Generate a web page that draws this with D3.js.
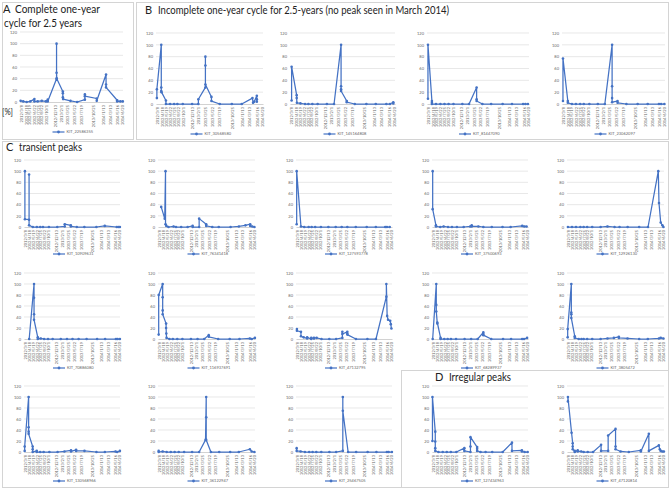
<!DOCTYPE html>
<html><head><meta charset="utf-8">
<script src="https://cdn.jsdelivr.net/npm/d3@7"></script>
<style>body{margin:0;background:#fff}svg{display:block}</style>
</head><body><svg id="c" width="670" height="489"></svg>
<script>
// ---------- DATA ----------
const yTicks = [0,20,40,60,80,100,120];
const tickDates = ["2012-03-08","2012-04-18","2012-05-19","2012-06-22","2012-07-25","2012-08-22","2012-10-01","2012-12-13","2013-02-01","2013-03-25","2013-05-22","2013-07-19","2013-10-25","2014-01-13","2014-03-13","2014-05-16","2014-06-20"];
const dateDomain = ["2012-03-01","2014-06-30"];

const kit_22586355 = [["2012-03-06",2],["2012-03-28",1],["2012-04-25",0],["2012-05-25",1],["2012-06-28",5],["2012-06-28",1],["2012-07-25",1],["2012-08-28",2],["2012-10-01",1],["2012-10-16",4],["2012-10-16",1],["2012-12-28",40],["2012-12-28",100],["2012-12-28",50],["2012-12-30",40],["2013-02-18",18],["2013-02-18",15],["2013-02-18",8],["2013-02-20",5],["2013-04-22",2],["2013-06-16",0],["2013-08-19",4],["2013-08-19",13],["2013-08-19",10],["2013-11-25",6],["2013-11-25",2],["2014-02-10",47],["2014-02-10",30],["2014-02-10",25],["2014-05-13",3],["2014-05-13",1],["2014-06-08",1],["2014-06-28",1]];
const kit_30568580 = [["2012-03-08",10],["2012-03-08",25],["2012-04-12",100],["2012-04-12",28],["2012-04-12",22],["2012-04-14",20],["2012-05-19",6],["2012-05-19",0],["2012-06-21",0],["2012-07-23",0],["2012-08-18",0],["2012-09-30",0],["2012-12-13",0],["2013-02-01",0],["2013-02-01",8],["2013-03-29",28],["2013-03-29",80],["2013-03-29",65],["2013-03-29",33],["2013-05-16",12],["2013-05-16",5],["2013-07-21",0],["2013-10-25",0],["2014-01-12",0],["2014-04-07",10],["2014-04-12",2],["2014-04-21",4],["2014-05-12",14],["2014-05-12",8],["2014-05-12",4]];
const kit_145164808 = [["2012-03-14",6],["2012-03-14",63],["2012-04-24",15],["2012-04-24",10],["2012-04-26",2],["2012-05-25",1],["2012-07-01",0],["2012-07-28",0],["2012-08-29",0],["2012-10-11",0],["2012-12-25",0],["2013-02-21",0],["2013-04-19",100],["2013-04-19",30],["2013-04-19",25],["2013-04-19",22],["2013-06-04",5],["2013-06-04",3],["2013-08-08",0],["2013-11-10",0],["2014-01-25",0],["2014-04-21",0],["2014-05-20",0],["2014-06-16",3],["2014-06-16",1]];
const kit_81447090 = [["2012-03-09",9],["2012-03-09",100],["2012-04-11",5],["2012-04-11",2],["2012-04-11",0],["2012-05-15",0],["2012-06-21",0],["2012-07-25",0],["2012-08-28",0],["2012-10-08",0],["2012-12-21",0],["2013-02-15",0],["2013-04-19",28],["2013-04-19",8],["2013-04-19",5],["2013-06-06",0],["2013-08-18",0],["2013-11-22",0],["2014-02-08",0],["2014-05-12",0],["2014-05-31",0],["2014-06-21",0]];
const kit_23062097 = [["2012-03-09",5],["2012-03-09",77],["2012-04-18",5],["2012-04-18",2],["2012-05-22",0],["2012-06-24",0],["2012-07-29",0],["2012-08-28",0],["2012-10-13",0],["2012-12-22",0],["2013-02-18",0],["2013-04-19",100],["2013-04-19",30],["2013-04-19",10],["2013-04-19",3],["2013-06-03",5],["2013-06-03",2],["2013-08-15",0],["2013-11-16",0],["2014-02-07",0],["2014-05-11",0],["2014-05-29",0],["2014-06-25",0]];
const kit_10909631 = [["2012-03-09",100],["2012-03-09",14],["2012-04-15",13],["2012-04-15",94],["2012-04-15",3],["2012-05-18",0],["2012-06-23",0],["2012-07-23",0],["2012-08-16",0],["2012-10-08",0],["2012-12-21",0],["2013-02-25",1],["2013-02-25",5],["2013-04-20",3],["2013-04-20",1],["2013-06-12",0],["2013-08-18",0],["2013-12-03",0],["2014-02-15",2],["2014-06-01",0],["2014-06-16",0],["2014-06-29",0]];
const kit_76341418 = [["2012-03-29",36],["2012-04-29",15],["2012-05-06",100],["2012-05-06",5],["2012-05-13",2],["2012-06-01",0],["2012-07-16",1],["2012-08-06",0],["2012-09-20",0],["2012-11-16",0],["2012-12-30",2],["2012-12-30",0],["2013-02-25",0],["2013-02-25",15],["2013-04-28",5],["2013-04-28",2],["2013-06-20",0],["2013-08-16",0],["2013-11-28",0],["2014-02-08",1],["2014-04-07",3],["2014-05-19",5],["2014-05-19",2],["2014-06-06",1],["2014-06-25",0]];
const kit_127593778 = [["2012-03-07",5],["2012-03-07",100],["2012-04-14",1],["2012-05-13",0],["2012-06-21",0],["2012-07-18",0],["2012-08-18",0],["2012-10-08",0],["2012-12-13",0],["2013-02-16",0],["2013-04-10",0],["2013-05-30",0],["2013-08-13",0],["2013-11-18",0],["2014-02-07",0],["2014-05-01",0],["2014-05-16",0],["2014-06-10",0]];
const kit_37500693 = [["2012-03-07",100],["2012-03-07",32],["2012-04-05",3],["2012-04-05",1],["2012-05-13",0],["2012-06-12",1],["2012-07-21",0],["2012-08-25",0],["2012-10-08",0],["2012-12-07",0],["2013-02-02",1],["2013-02-16",3],["2013-02-16",1],["2013-04-16",1],["2013-05-30",0],["2013-08-13",0],["2013-11-16",0],["2014-01-27",0],["2014-05-10",2],["2014-05-28",1],["2014-06-17",1]];
const kit_12926130 = [["2012-03-09",0],["2012-04-14",0],["2012-05-19",0],["2012-06-26",0],["2012-07-25",0],["2012-08-25",0],["2012-10-08",0],["2012-12-21",0],["2013-02-19",1],["2013-04-22",0],["2013-06-05",0],["2013-08-15",0],["2013-11-24",0],["2014-02-10",0],["2014-05-11",100],["2014-05-17",43],["2014-06-01",8],["2014-06-16",3],["2014-06-25",0]];
const kit_70886080 = [["2012-04-16",0],["2012-05-29",100],["2012-05-29",75],["2012-05-29",45],["2012-05-29",35],["2012-07-01",3],["2012-07-01",0],["2012-07-28",1],["2012-08-26",0],["2012-09-30",0],["2012-11-10",0],["2013-01-21",0],["2013-03-17",0],["2013-05-05",0],["2013-06-28",0],["2013-09-07",0],["2013-12-09",0],["2014-02-18",0],["2014-05-25",0],["2014-06-08",0],["2014-06-29",0]];
const kit_116937691 = [["2012-03-07",8],["2012-03-07",80],["2012-04-11",100],["2012-04-11",76],["2012-04-11",52],["2012-04-11",45],["2012-05-11",28],["2012-05-11",20],["2012-05-13",10],["2012-05-15",2],["2012-06-09",0],["2012-07-09",0],["2012-08-17",0],["2012-10-01",0],["2012-12-15",0],["2013-02-11",0],["2013-04-11",0],["2013-05-20",7],["2013-05-20",4],["2013-08-11",0],["2013-11-20",0],["2014-02-14",0],["2014-05-16",1],["2014-06-01",0],["2014-06-29",2]];
const kit_47132795 = [["2012-03-09",18],["2012-03-09",15],["2012-04-14",13],["2012-04-14",5],["2012-05-08",3],["2012-06-08",1],["2012-06-08",3],["2012-07-14",0],["2012-07-14",2],["2012-08-07",1],["2012-08-07",2],["2012-08-31",2],["2012-10-13",0],["2012-12-21",0],["2013-02-20",0],["2013-04-16",2],["2013-04-16",13],["2013-04-16",9],["2013-05-30",13],["2013-05-30",10],["2013-05-30",8],["2013-08-14",0],["2013-11-24",0],["2014-02-08",0],["2014-05-11",77],["2014-05-11",100],["2014-05-18",42],["2014-05-26",35],["2014-06-14",33],["2014-06-19",27],["2014-06-25",19]];
const kit_68289937 = [["2012-03-07",0],["2012-04-08",100],["2012-04-08",62],["2012-04-08",50],["2012-04-17",28],["2012-04-17",30],["2012-05-16",2],["2012-05-16",0],["2012-06-18",0],["2012-07-18",0],["2012-08-16",0],["2012-09-30",0],["2012-12-15",0],["2013-02-11",0],["2013-04-10",0],["2013-05-30",12],["2013-05-30",9],["2013-05-30",7],["2013-08-08",0],["2013-11-21",0],["2014-01-31",0],["2014-05-09",0],["2014-05-26",0],["2014-06-22",2]];
const kit_3805472 = [["2012-03-07",3],["2012-03-07",18],["2012-04-08",100],["2012-04-08",48],["2012-04-08",45],["2012-04-08",38],["2012-05-08",5],["2012-05-08",2],["2012-06-12",0],["2012-07-06",0],["2012-07-25",0],["2012-08-25",0],["2012-10-08",0],["2012-12-21",0],["2013-02-19",1],["2013-04-16",2],["2013-05-30",4],["2013-05-30",2],["2013-08-14",1],["2013-11-24",0],["2014-02-08",0],["2014-05-16",1],["2014-06-01",2],["2014-06-25",1]];
const kit_130568966 = [["2012-03-07",2],["2012-03-07",10],["2012-04-11",100],["2012-04-11",45],["2012-04-11",37],["2012-04-11",33],["2012-05-17",10],["2012-05-17",5],["2012-05-17",0],["2012-06-22",2],["2012-06-22",0],["2012-07-22",0],["2012-08-22",0],["2012-10-12",0],["2012-12-24",0],["2013-02-22",1],["2013-04-22",3],["2013-04-22",1],["2013-06-06",4],["2013-06-06",2],["2013-08-19",2],["2013-12-03",0],["2014-02-16",0],["2014-05-22",1],["2014-06-05",0],["2014-06-29",2]];
const kit_36122947 = [["2012-03-07",2],["2012-03-07",0],["2012-04-11",1],["2012-05-16",0],["2012-06-21",0],["2012-07-25",0],["2012-08-30",0],["2012-10-16",0],["2012-12-25",0],["2013-02-25",0],["2013-04-22",22],["2013-04-28",100],["2013-04-28",63],["2013-04-28",22],["2013-06-08",0],["2013-08-20",0],["2013-11-24",0],["2014-02-08",0],["2014-05-16",5],["2014-06-01",1],["2014-06-25",0]];
const kit_25467505 = [["2012-03-07",7],["2012-03-07",2],["2012-04-11",1],["2012-05-19",0],["2012-06-26",0],["2012-07-26",0],["2012-08-28",0],["2012-10-11",0],["2012-12-22",0],["2013-02-20",0],["2013-04-20",2],["2013-04-20",100],["2013-04-20",75],["2013-06-06",0],["2013-08-16",0],["2013-11-26",0],["2014-02-12",0],["2014-05-16",0],["2014-05-31",0],["2014-06-29",0]];
const kit_127434963 = [["2012-03-05",20],["2012-03-05",100],["2012-03-30",37],["2012-03-30",19],["2012-03-30",7],["2012-03-30",2],["2012-04-27",0],["2012-06-04",0],["2012-07-10",0],["2012-08-15",0],["2012-10-03",0],["2012-12-13",7],["2012-12-13",2],["2013-02-05",0],["2013-02-05",10],["2013-02-05",27],["2013-04-05",9],["2013-04-05",6],["2013-04-05",2],["2013-05-05",0],["2013-06-19",0],["2013-08-17",0],["2013-11-18",0],["2014-02-08",17],["2014-02-08",2],["2014-05-07",3],["2014-05-07",1],["2014-05-31",0],["2014-06-27",0]];
const kit_47120814 = [["2012-03-09",92],["2012-03-09",100],["2012-04-10",35],["2012-04-20",16],["2012-04-20",10],["2012-04-20",5],["2012-05-08",2],["2012-05-08",0],["2012-06-03",3],["2012-06-03",1],["2012-07-04",1],["2012-07-25",0],["2012-08-30",0],["2012-10-16",0],["2012-12-25",13],["2012-12-25",2],["2013-02-25",2],["2013-02-25",30],["2013-05-01",42],["2013-05-01",10],["2013-05-01",5],["2013-06-14",1],["2013-08-25",0],["2013-12-09",3],["2013-12-09",1],["2014-02-17",33],["2014-02-17",2],["2014-05-16",12],["2014-05-24",5],["2014-06-01",2],["2014-06-15",1],["2014-06-29",1]];

// ---------- LAYOUT ----------
const colX = [[24,120],[158,255],[296,392],[432,528],[567,664]];
const rows = [{t:160,b:227,l:254},{t:273,b:339,l:368},{t:386,b:452,l:481}];
const charts = [
  {name:"KIT_22586355", data:kit_22586355, x0:20, x1:123, t:32, b:102, l:132},
  {name:"KIT_30568580", data:kit_30568580, x0:156, x1:263, t:33, b:104, l:134},
  {name:"KIT_145164808", data:kit_145164808, x0:290, x1:395, t:33, b:104, l:134},
  {name:"KIT_81447090", data:kit_81447090, x0:427, x1:529, t:33, b:104, l:134},
  {name:"KIT_23062097", data:kit_23062097, x0:562, x1:665, t:33, b:104, l:134}
];
const gridCharts = [
  [kit_10909631,"KIT_10909631",0,0],[kit_76341418,"KIT_76341418",0,1],[kit_127593778,"KIT_127593778",0,2],[kit_37500693,"KIT_37500693",0,3],[kit_12926130,"KIT_12926130",0,4],
  [kit_70886080,"KIT_70886080",1,0],[kit_116937691,"KIT_116937691",1,1],[kit_47132795,"KIT_47132795",1,2],[kit_68289937,"KIT_68289937",1,3],[kit_3805472,"KIT_3805472",1,4],
  [kit_130568966,"KIT_130568966",2,0],[kit_36122947,"KIT_36122947",2,1],[kit_25467505,"KIT_25467505",2,2],[kit_127434963,"KIT_127434963",2,3],[kit_47120814,"KIT_47120814",2,4]
];
gridCharts.forEach(([data,name,r,c]) => {
  charts.push({name, data, x0:colX[c][0], x1:colX[c][1], t:rows[r].t, b:rows[r].b, l:rows[r].l});
});

const svg = d3.select("#c");
const parse = d3.timeParse("%Y-%m-%d");
const fmt = d3.timeFormat("%Y/%-m/%-d");
const BLUE = "#4472C4";
const FONT = "Lato, 'Liberation Sans', sans-serif";
svg.append("rect").attr("width",670).attr("height",489).attr("fill","#fff");

// panel boxes
const boxes = [[2,2,131,137],[136,2,532,137],[2,141,666,346],[401,370,267,117]];
svg.selectAll(".box").data(boxes).join("rect").attr("class","box")
  .attr("x",d=>d[0]+0.5).attr("y",d=>d[1]+0.5).attr("width",d=>d[2]).attr("height",d=>d[3])
  .attr("fill","#fff").attr("stroke","#d4d4d4").attr("stroke-width",1);

function drawChart(c){
  const x = d3.scaleTime().domain(dateDomain.map(parse)).range([c.x0,c.x1]);
  const y = d3.scaleLinear().domain([0,120]).range([c.b,c.t]);
  const g = svg.append("g");
  g.selectAll(".grid").data(yTicks.filter(v=>v>0)).join("line")
    .attr("x1",c.x0).attr("x2",c.x1).attr("y1",d=>y(d)).attr("y2",d=>y(d))
    .attr("stroke","#d9d9d9").attr("stroke-width",0.6);
  const ya = g.append("g").attr("transform",`translate(${c.x0},0)`)
    .call(d3.axisLeft(y).tickValues(yTicks).tickSize(0).tickPadding(3));
  ya.select(".domain").remove();
  ya.selectAll("text").attr("font-size",4).attr("fill","#666").attr("font-family",FONT);
  const xa = g.append("g").attr("transform",`translate(0,${c.b})`)
    .call(d3.axisBottom(x).tickValues(tickDates.map(parse)).tickFormat(fmt).tickSize(0));
  xa.select(".domain").attr("stroke","#bfbfbf").attr("stroke-width",0.7);
  xa.selectAll("text").attr("font-size",4).attr("fill","#666").attr("font-family",FONT)
    .attr("transform","rotate(-90)").attr("x",-3).attr("y",0).attr("dy","0.35em").attr("text-anchor","end");
  const line = d3.line().x(d=>x(parse(d[0]))).y(d=>y(d[1]));
  g.append("path").datum(c.data).attr("d",line).attr("fill","none")
    .attr("stroke",BLUE).attr("stroke-width",1.25).attr("stroke-linejoin","round");
  g.selectAll(".pt").data(c.data).join("circle")
    .attr("cx",d=>x(parse(d[0]))).attr("cy",d=>y(d[1])).attr("r",1.3).attr("fill",BLUE);
  // legend
  const cx = (c.x0+c.x1)/2;
  g.append("line").attr("x1",cx-19).attr("x2",cx-7).attr("y1",c.l).attr("y2",c.l)
    .attr("stroke",BLUE).attr("stroke-width",1.2);
  g.append("circle").attr("cx",cx-13).attr("cy",c.l).attr("r",1.4).attr("fill",BLUE);
  g.append("text").attr("x",cx-5).attr("y",c.l).attr("dy","0.35em").text(c.name)
    .attr("font-size",4).attr("fill","#666").attr("font-family",FONT);
}
charts.forEach(drawChart);

// titles
const titles = [
  {t:"A", x:3, y:13}, {t:"Complete one-year", x:15, y:13, w:85},
  {t:"cycle for 2.5 years", x:4, y:27, w:78},
  {t:"B", x:145, y:14}, {t:"Incomplete one-year cycle for 2.5-years (no peak seen in March 2014)", x:158, y:14, w:291},
  {t:"C", x:6, y:151}, {t:"transient peaks", x:19, y:151, w:63},
  {t:"D", x:435, y:381}, {t:"Irregular peaks", x:449, y:381, w:62}
];
titles.forEach(d=>{
  const tx = svg.append("text").attr("x",d.x).attr("y",d.y).text(d.t)
    .attr("font-size",11).attr("fill","#222").attr("font-family",FONT);
  if(d.w) tx.attr("textLength",d.w).attr("lengthAdjust","spacingAndGlyphs");
});
svg.append("text").attr("x",2).attr("y",115).text("[%]").attr("font-size",9)
  .attr("textLength",11).attr("lengthAdjust","spacingAndGlyphs")
  .attr("fill","#222").attr("font-family",FONT);
</script>
</body></html>
